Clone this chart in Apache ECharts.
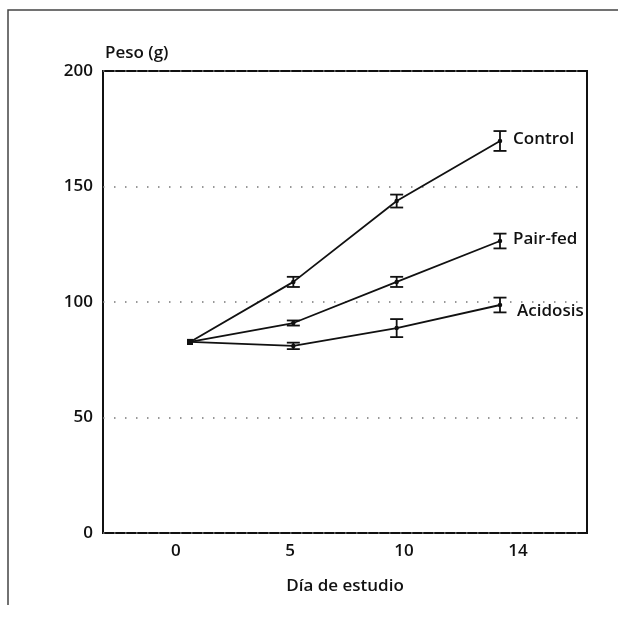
<!DOCTYPE html>
<html>
<head>
<meta charset="utf-8">
<style>
  html, body { margin: 0; padding: 0; background: #fff; }
  #chart { width: 618px; height: 618px; }
</style>
<script src="https://cdn.jsdelivr.net/npm/echarts@6/dist/echarts.min.js"></script>
</head>
<body>
<div id="chart"></div>
<script>
// ---- data ----
const dayLabels = ['0', '5', '10', '14'];
const seriesNames = ['Control', 'Pair-fed', 'Acidosis'];
const controlMean  = [82.7, 108.7, 143.7, 169.7];
const controlErr   = [0, 2.2, 2.8, 4.3];
const pairFedMean  = [82.7, 90.9, 108.7, 126.4];
const pairFedErr   = [0, 1.1, 2.2, 3.2];
const acidosisMean = [82.7, 81.0, 88.7, 98.7];
const acidosisErr  = [0, 1.4, 3.9, 3.2];
const yTicks = [0, 50, 100, 150, 200];

const FONT = 'Open Sans';
const FW = 600;
const INK = '#111';

const means = [controlMean, pairFedMean, acidosisMean];
const errs = [controlErr, pairFedErr, acidosisErr];
const labelOffsets = [[0, -2], [0, -2], [4, 6]];

const chart = echarts.init(document.getElementById('chart'), null, { renderer: 'canvas' });

const lineSeries = means.map((m, si) => ({
  type: 'line',
  name: seriesNames[si],
  xAxisIndex: 1,
  yAxisIndex: 0,
  data: m.map((v, i) => ({
    value: [i, v],
    symbol: i === 0 ? 'rect' : 'circle',
    symbolSize: i === 0 ? 6 : 4.5
  })),
  lineStyle: { color: INK, width: 1.8 },
  itemStyle: { color: INK },
  showSymbol: true,
  animation: false,
  z: 3,
  endLabel: {
    show: true,
    formatter: '{a}',
    color: INK,
    fontFamily: FONT,
    fontWeight: FW,
    fontSize: 17,
    distance: 13,
    offset: labelOffsets[si]
  }
}));

const errData = [];
means.forEach((m, si) => {
  m.forEach((v, i) => {
    if (errs[si][i] > 0) errData.push([i, v - errs[si][i], v + errs[si][i]]);
  });
});

const errSeries = {
  type: 'custom',
  xAxisIndex: 1,
  yAxisIndex: 0,
  data: errData,
  animation: false,
  z: 4,
  renderItem: function (params, api) {
    const x = api.value(0), lo = api.value(1), hi = api.value(2);
    const p1 = api.coord([x, lo]);
    const p2 = api.coord([x, hi]);
    const hw = 6.5;
    const st = { stroke: INK, lineWidth: 1.8 };
    return {
      type: 'group',
      children: [
        { type: 'line', shape: { x1: p1[0], y1: p1[1], x2: p2[0], y2: p2[1] }, style: st },
        { type: 'line', shape: { x1: p1[0] - hw, y1: p1[1], x2: p1[0] + hw, y2: p1[1] }, style: st },
        { type: 'line', shape: { x1: p2[0] - hw, y1: p2[1], x2: p2[0] + hw, y2: p2[1] }, style: st }
      ]
    };
  }
};

const option = {
  backgroundColor: '#fff',
  animation: false,
  title: {
    text: 'Peso (g)',
    left: 100,
    top: 40,
    textStyle: { fontFamily: FONT, fontSize: 17, fontWeight: FW, color: INK }
  },
  grid: {
    left: 103, right: 31, top: 71, bottom: 85,
    show: true, borderColor: INK, borderWidth: 2, backgroundColor: 'transparent'
  },
  xAxis: [
    {
      // label axis
      type: 'value',
      min: -0.64, max: 3.605,
      axisLine: { show: false },
      axisTick: { show: false },
      splitLine: { show: false },
      axisLabel: {
        customValues: [0, 1, 2, 3],
        formatter: function (v) { return dayLabels[Math.round(v)]; },
        color: INK, fontFamily: FONT, fontWeight: FW, fontSize: 17, margin: 10
      },
      name: 'Día de estudio',
      nameLocation: 'middle',
      nameGap: 45,
      nameTextStyle: { color: INK, fontFamily: FONT, fontWeight: FW, fontSize: 17 }
    },
    {
      // data axis (hidden)
      type: 'value',
      position: 'bottom',
      min: -0.842, max: 3.842,
      show: false
    }
  ],
  yAxis: {
    type: 'value',
    min: 0, max: 200, interval: 50,
    axisLine: { show: false },
    axisTick: { show: false },
    axisLabel: {
      color: INK, fontFamily: FONT, fontWeight: FW, fontSize: 17, margin: 10,
      formatter: function (v) { return yTicks.indexOf(v) >= 0 ? String(v) : ''; }
    },
    splitLine: {
      show: true,
      lineStyle: { color: '#777', width: 1.5, type: [1.5, 9.5] }
    }
  },
  graphic: [
    {
      type: 'polyline',
      silent: true,
      shape: { points: [[8, 605], [8, 10], [618, 10]] },
      style: { stroke: '#444', lineWidth: 1.5, fill: null }
    }
  ],
  series: lineSeries.concat([errSeries])
};

chart.setOption(option);
</script>
</body>
</html>
